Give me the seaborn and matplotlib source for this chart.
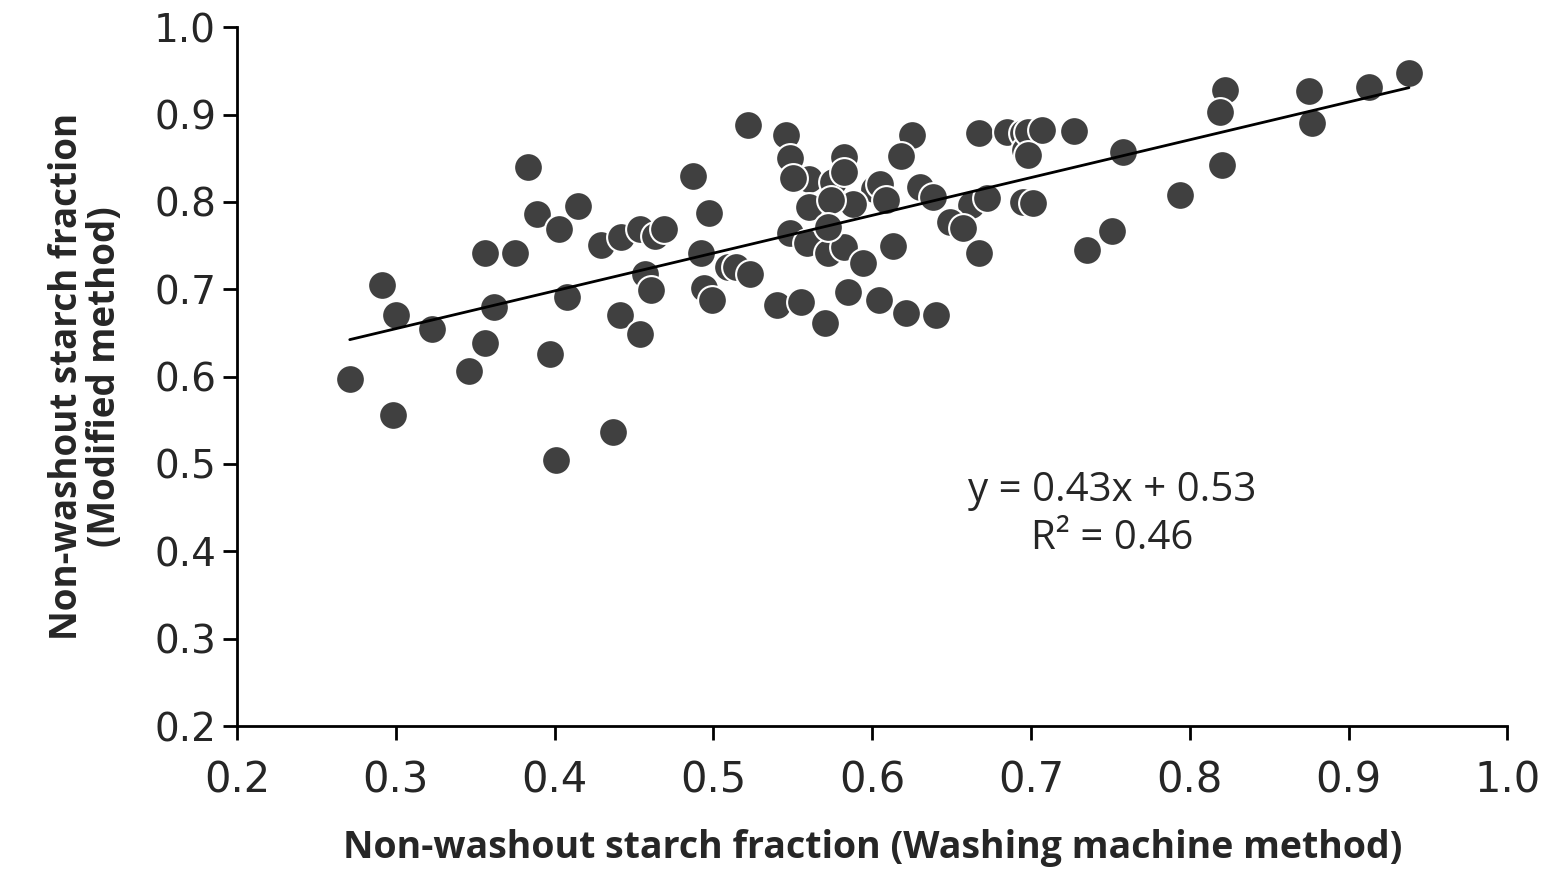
import matplotlib
matplotlib.use('Agg')
import matplotlib.pyplot as plt
import seaborn as sns
import numpy as np
import pandas as pd


# === Data ===

washing_machine = [
    0.271, 0.291, 0.300, 0.298, 0.323, 0.346, 0.356, 0.356, 0.362, 0.375,
    0.383, 0.389, 0.397, 0.401, 0.403, 0.408, 0.415, 0.429, 0.437, 0.441,
    0.442, 0.454, 0.454, 0.457, 0.461, 0.463, 0.469, 0.487, 0.497, 0.492,
    0.509, 0.494, 0.499, 0.522, 0.546, 0.548, 0.582, 0.625, 0.618, 0.667,
    0.685, 0.695, 0.696, 0.560, 0.550, 0.575, 0.582, 0.601, 0.605, 0.609,
    0.588, 0.560, 0.574, 0.630, 0.638, 0.662, 0.672, 0.649, 0.657, 0.695,
    0.667, 0.613, 0.548, 0.559, 0.572, 0.582, 0.594, 0.572, 0.514, 0.523,
    0.540, 0.555, 0.570, 0.585, 0.604, 0.621, 0.640, 0.698, 0.707, 0.698,
    0.727, 0.758, 0.701, 0.751, 0.735, 0.794, 0.822, 0.819, 0.820, 0.875,
    0.877, 0.913, 0.938,
]
modified = [
    0.597, 0.705, 0.670, 0.556, 0.654, 0.606, 0.742, 0.638, 0.680, 0.742,
    0.840, 0.786, 0.626, 0.504, 0.769, 0.691, 0.795, 0.751, 0.537, 0.670,
    0.760, 0.769, 0.649, 0.718, 0.699, 0.761, 0.769, 0.830, 0.787, 0.741,
    0.725, 0.701, 0.688, 0.888, 0.876, 0.850, 0.851, 0.876, 0.853, 0.879,
    0.880, 0.879, 0.859, 0.826, 0.827, 0.823, 0.834, 0.815, 0.821, 0.802,
    0.798, 0.794, 0.802, 0.817, 0.806, 0.796, 0.804, 0.777, 0.770, 0.800,
    0.742, 0.750, 0.764, 0.753, 0.741, 0.748, 0.730, 0.771, 0.725, 0.718,
    0.682, 0.685, 0.661, 0.697, 0.688, 0.673, 0.670, 0.880, 0.882, 0.854,
    0.881, 0.857, 0.799, 0.767, 0.745, 0.808, 0.928, 0.903, 0.842, 0.927,
    0.890, 0.932, 0.948,
]
equation_text = 'y = 0.43x + 0.53\nR² = 0.46'
x_ticks = [0.2, 0.3, 0.4, 0.5, 0.6, 0.7, 0.8, 0.9, 1.0]
y_ticks = [0.2, 0.3, 0.4, 0.5, 0.6, 0.7, 0.8, 0.9, 1.0]

data = pd.DataFrame({'washing': washing_machine, 'modified': modified})


# === Setup ===

sns.set_style('ticks')
plt.rcParams['font.family'] = ['Open Sans', 'DejaVu Sans']

fig = plt.figure(figsize=(15.41, 8.76), dpi=100)
ax = fig.add_axes([0.1538, 0.1712, 0.8244, 0.7978])


# === Plot ===

sns.scatterplot(
    data=data, x='washing', y='modified', ax=ax,
    s=430, color='#404040', edgecolor='white', linewidth=1.5, zorder=3,
)
sns.regplot(
    data=data, x='washing', y='modified', ax=ax,
    scatter=False, ci=None, truncate=True,
    line_kws={'color': 'black', 'linewidth': 2, 'zorder': 4},
)

ax.text(0.751, 0.442, equation_text, ha='center', va='center',
        fontsize=29, linespacing=1.25, color='#262626')

ax.set_xlim(0.2, 1.0)
ax.set_ylim(0.2, 1.0)
ax.set_xticks(x_ticks)
ax.set_yticks(y_ticks)
ax.set_xticklabels([f'{t:.1f}' for t in x_ticks],
                   family=['Liberation Sans Narrow', 'DejaVu Sans'], fontsize=30)
ax.set_yticklabels([f'{t:.1f}' for t in y_ticks],
                   family=['DejaVu Sans'], fontsize=28)
ax.tick_params(axis='both', direction='out', length=10, width=2,
               color='black', labelcolor='#262626')
ax.tick_params(axis='x', pad=14)
ax.tick_params(axis='y', pad=5)

ax.set_xlabel('Non-washout starch fraction (Washing machine method)',
              fontsize=27, fontweight='bold', labelpad=20, color='#262626')
ax.set_ylabel('Non-washout starch fraction\n(Modified method)',
              fontsize=26.5, fontweight='bold', labelpad=22, color='#262626',
              linespacing=1.0)

for side in ['top', 'right']:
    ax.spines[side].set_visible(False)
for side in ['left', 'bottom']:
    ax.spines[side].set_linewidth(2)
    ax.spines[side].set_color('black')

fig.savefig('out.png', dpi=100)
